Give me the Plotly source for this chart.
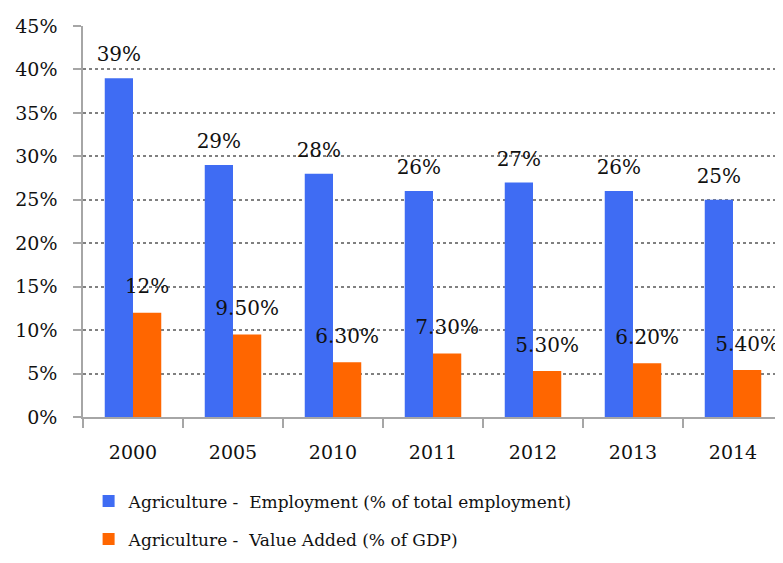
import plotly.graph_objects as go

years = ["2000", "2005", "2010", "2011", "2012", "2013", "2014"]
employment = [39, 29, 28, 26, 27, 26, 25]
value_added = [12, 9.5, 6.3, 7.3, 5.3, 6.2, 5.4]
employment_labels = ["39%", "29%", "28%", "26%", "27%", "26%", "25%"]
value_added_labels = ["12%", "9.50%", "6.30%", "7.30%", "5.30%", "6.20%", "5.40%"]
y_ticks = [0, 5, 10, 15, 20, 25, 30, 35, 40, 45]
y_tick_labels = [f"{v}%" for v in y_ticks]

FONT = "DejaVu Serif"
BLUE = "#3F6CF3"
ORANGE = "#FF6600"
TXT = "#111111"
EMP_GAP = 2.5  # label centre above bar top, in axis units
VA_GAP = 2.8

fig = go.Figure()
fig.add_trace(go.Bar(
    x=years, y=employment, name="Agriculture -  Employment (% of total employment)",
    marker=dict(color=BLUE, line=dict(width=0)), offsetgroup="emp", legendgroup="emp",
))
fig.add_trace(go.Bar(
    x=years, y=value_added, name="Agriculture -  Value Added (% of GDP)",
    marker=dict(color=ORANGE, line=dict(width=0)), offsetgroup="va", legendgroup="va",
))
fig.add_trace(go.Scatter(
    x=years, y=[v + EMP_GAP for v in employment], text=employment_labels,
    mode="text", textposition="middle center", offsetgroup="emp",
    textfont=dict(family=FONT, size=20, color=TXT), showlegend=False,
    hoverinfo="skip", cliponaxis=False, legendgroup="emp",
))
fig.add_trace(go.Scatter(
    x=years, y=[v + VA_GAP for v in value_added], text=value_added_labels,
    mode="text", textposition="middle center", offsetgroup="va",
    textfont=dict(family=FONT, size=20, color=TXT), showlegend=False,
    hoverinfo="skip", cliponaxis=False, legendgroup="va",
))

fig.update_layout(
    width=775, height=555,
    margin=dict(l=75, r=0, t=18, b=146),
    paper_bgcolor="white", plot_bgcolor="white",
    barmode="group", bargap=0.435, bargroupgap=0,
    scattermode="group", scattergap=0.435,
    font=dict(family=FONT, size=19, color=TXT),
    showlegend=True,
    legend=dict(
        orientation="v", x=0.008, xanchor="left", y=-0.17, yanchor="top",
        font=dict(family=FONT, size=17, color=TXT),
        tracegroupgap=13, traceorder="grouped",
    ),
    xaxis=dict(
        type="category", range=[-0.5, 6.5],
        showline=True, linecolor="#A6A6A6", linewidth=1.5,
        ticks="outside", tickson="boundaries", ticklen=9, tickcolor="#A6A6A6",
        tickwidth=1.5, showgrid=False, ticklabelstandoff=17,
        tickfont=dict(family=FONT, size=19, color=TXT),
    ),
    yaxis=dict(
        range=[0, 45], tickvals=y_ticks, ticktext=y_tick_labels,
        showline=True, linecolor="#A6A6A6", linewidth=1.5,
        ticks="outside", ticklen=8, tickcolor="#A6A6A6", tickwidth=1.5,
        showgrid=True, gridcolor="#808080", griddash="dot", gridwidth=1.5,
        zeroline=False, ticklabelstandoff=12,
        tickfont=dict(family=FONT, size=19, color=TXT),
    ),
)

fig.write_html("out.html")
